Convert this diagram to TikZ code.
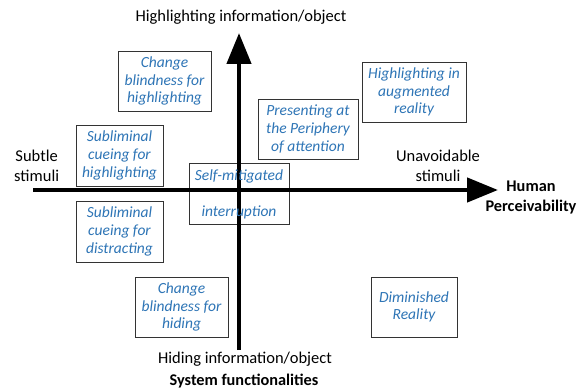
\documentclass[tikz,border=0pt]{standalone}
\usepackage{fontspec}
\setmainfont{Carlito}
\usetikzlibrary{arrows.meta}
\definecolor{boxblue}{HTML}{2E75B6}
\tikzset{
  qbox/.style={draw=black!80, line width=0.8pt, fill=white, inner sep=0pt, align=center,
    font=\fontsize{15.5}{17.7}\selectfont\itshape, text=boxblue},
  lbl/.style={inner sep=0pt, align=center, font=\fontsize{16.5}{19.5}\selectfont, text=black},
  blbl/.style={lbl, font=\fontsize{16.3}{20}\selectfont\bfseries},
  axis/.style={line width=4.5pt, -{Triangle[length=31pt,width=24pt]}}
}
\begin{document}
\begin{tikzpicture}[x=1pt,y=-1pt]
\useasboundingbox (0,0) rectangle (578,390);
\fill[white] (0,0) rectangle (578,390);
% boxes
\node[qbox, minimum width=93pt, minimum height=60pt] (cbh) at (164.5,81) {Change\\blindness for\\highlighting};
\node[qbox, minimum width=87pt, minimum height=61pt] (sch) at (119.5,155.5) {Subliminal\\cueing for\\highlighting};
\node[qbox, minimum width=100pt, minimum height=61pt] (smi) at (239,193.5) {};
\node[qbox, minimum width=100pt, minimum height=60pt] (ppa) at (308,129) {Presenting at\\the Periphery\\of attention};
\node[qbox, minimum width=104pt, minimum height=60pt] (har) at (414,92) {Highlighting in\\augmented\\reality};
\node[qbox, minimum width=87pt, minimum height=61pt] (scd) at (119.5,231.5) {Subliminal\\cueing for\\distracting};
\node[qbox, minimum width=93pt, minimum height=60pt] (cbhd) at (181.5,307) {Change\\blindness for\\hiding};
\node[qbox, minimum width=86pt, minimum height=60pt] (dr) at (414,307) {Diminished\\Reality};
% axes
\coordinate (hl) at (33,190);
\coordinate (hr) at (498,190);
\coordinate (vb) at (239,350);
\coordinate (vt) at (239,33);
\draw[axis] (hl) -- (hr);
\draw[axis] (vb) -- (vt);
% self-mitigated text
\node[qbox, draw=none, fill=none] (smi1) at (239,176) {Self-mitigated};
\node[qbox, draw=none, fill=none] (smi2) at (239,212) {interruption};
% labels
\node[lbl] (top) at (241,17) {Highlighting information/object};
\node[lbl, anchor=west] (subtle) at (14,166) {Subtle\\stimuli};
\node[lbl] (unav) at (438,166) {Unavoidable\\stimuli};
\node[blbl] (hp) at (531,197) {Human\\Perceivability};
\node[lbl] (bot) at (245,359) {Hiding information/object};
\node[blbl] (sys) at (244,381) {System functionalities};
\end{tikzpicture}
\end{document}
